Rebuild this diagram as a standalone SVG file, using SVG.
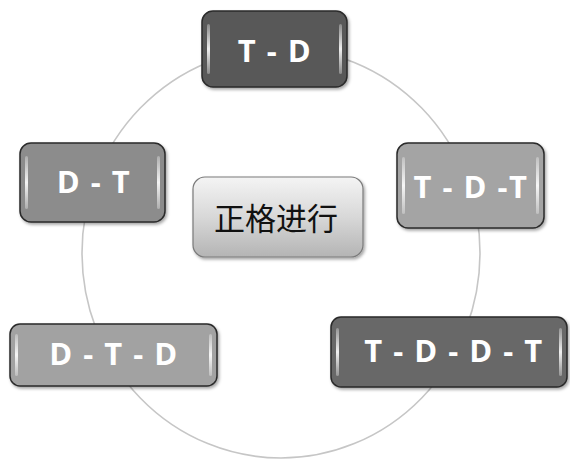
<svg xmlns="http://www.w3.org/2000/svg" width="570" height="460" viewBox="0 0 570 460">
<defs>
<linearGradient id="ctr" x1="0" y1="0" x2="0" y2="1">
<stop offset="0" stop-color="#f4f4f4"/>
<stop offset="0.5" stop-color="#d8d8d8"/>
<stop offset="1" stop-color="#b4b4b4"/>
</linearGradient>
<linearGradient id="hl" x1="0" y1="0" x2="0" y2="1">
<stop offset="0" stop-color="#ffffff" stop-opacity="0.3"/>
<stop offset="0.5" stop-color="#ffffff" stop-opacity="0.9"/>
<stop offset="1" stop-color="#ffffff" stop-opacity="0.3"/>
</linearGradient>
<filter id="sh" x="-10%" y="-10%" width="130%" height="130%">
<feDropShadow dx="1.5" dy="2" stdDeviation="1.5" flood-color="#000" flood-opacity="0.35"/>
</filter>
</defs>
<style>
.box{stroke:#2a2a2a;stroke-width:1.5;filter:url(#sh)}
.hl{fill:url(#hl)}
.lbl{font-family:"Open Sans","DejaVu Sans",sans-serif;font-weight:bold;font-size:31px;letter-spacing:1.5px;fill:#ffffff;text-anchor:middle;dominant-baseline:central}
.zh{font-family:"Noto Sans CJK SC","Noto Sans",sans-serif;font-size:31px;fill:#111;text-anchor:middle;dominant-baseline:central}
.ring{fill:none;stroke:#c6c6c6;stroke-width:1.6}
</style>
<rect width="570" height="460" fill="#ffffff"/>
<g id="connectors">
<ellipse class="ring" cx="281" cy="253" rx="199" ry="205"/>
</g>
<g id="node-td">
<rect class="box" x="202" y="11" width="145" height="76" rx="11" fill="#595959"/>
<rect class="hl" x="207" y="24" width="3" height="50" rx="1.5"/>
<rect class="hl" x="339" y="24" width="3" height="50" rx="1.5"/>
<text class="lbl" x="275" y="50">T - D</text>
</g>
<g id="node-tdt">
<rect class="box" x="397" y="143" width="147" height="85" rx="11" fill="#a4a4a4"/>
<rect class="hl" x="402" y="157" width="3" height="57" rx="1.5"/>
<rect class="hl" x="536" y="157" width="3" height="57" rx="1.5"/>
<text class="lbl" x="471" y="186">T - D -T</text>
</g>
<g id="node-dt">
<rect class="box" x="20" y="143" width="145" height="79" rx="11" fill="#8c8c8c"/>
<rect class="hl" x="25" y="156" width="3" height="53" rx="1.5"/>
<rect class="hl" x="157" y="156" width="3" height="53" rx="1.5"/>
<text class="lbl" x="94" y="181">D - T</text>
</g>
<g id="node-center">
<rect x="193" y="177" width="170" height="80" rx="12" fill="url(#ctr)" stroke="#7a7a7a" stroke-width="1.2" filter="url(#sh)"/>
<text class="zh" x="276" y="216">正格进行</text>
</g>
<g id="node-dtd">
<rect class="box" x="10" y="324" width="207" height="62" rx="10" fill="#a2a2a2"/>
<rect class="hl" x="15" y="334" width="3" height="42" rx="1.5"/>
<rect class="hl" x="209" y="334" width="3" height="42" rx="1.5"/>
<text class="lbl" x="114" y="353">D - T - D</text>
</g>
<g id="node-tddt">
<rect class="box" x="331" y="317" width="236" height="70" rx="10" fill="#676767"/>
<rect class="hl" x="336" y="328" width="3" height="48" rx="1.5"/>
<rect class="hl" x="559" y="328" width="3" height="48" rx="1.5"/>
<text class="lbl" x="454" y="350">T - D - D - T</text>
</g>
</svg>
